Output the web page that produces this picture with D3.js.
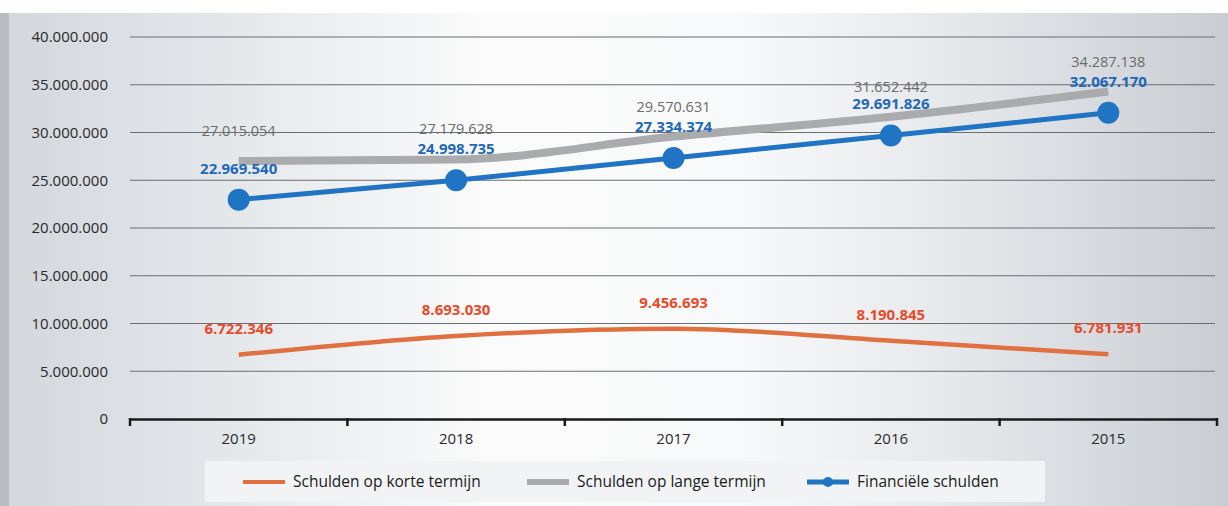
<!DOCTYPE html>
<html><head><meta charset="utf-8">
<script src="https://cdn.jsdelivr.net/npm/d3@7"></script>
<style>
html,body{margin:0;padding:0;background:#fff;}
svg{display:block;}
text{font-family:"Open Sans","Noto Sans",sans-serif;}
</style></head>
<body>
<svg id="c" width="1228" height="506"></svg>
<script>
const years = ["2019","2018","2017","2016","2015"];
const korte = [6722346, 8693030, 9456693, 8190845, 6781931];
const lange = [27015054, 27179628, 29570631, 31652442, 34287138];
const financiele = [22969540, 24998735, 27334374, 29691826, 32067170];
const yTicks = [0,5000000,10000000,15000000,20000000,25000000,30000000,35000000,40000000];
const seriesNames = ["Schulden op korte termijn","Schulden op lange termijn","Financiële schulden"];

const svg = d3.select("#c");
const W = 1228, H = 506;
const defs = svg.append("defs");
const g1 = defs.append("linearGradient").attr("id","bg").attr("x1","0").attr("x2","1").attr("y1","0").attr("y2","0");
g1.append("stop").attr("offset","0").attr("stop-color","#d3d6db");
g1.append("stop").attr("offset","0.2").attr("stop-color","#e6e9ec");
g1.append("stop").attr("offset","0.4").attr("stop-color","#fbfbfb");
g1.append("stop").attr("offset","0.6").attr("stop-color","#f8f9fa");
g1.append("stop").attr("offset","0.8").attr("stop-color","#e3e6e9");
g1.append("stop").attr("offset","1").attr("stop-color","#c9ccd1");

svg.append("rect").attr("x",0).attr("y",0).attr("width",W).attr("height",H).attr("fill","#fff");
svg.append("rect").attr("x",0).attr("y",13).attr("width",W).attr("height",H-13).attr("fill","url(#bg)");
svg.append("rect").attr("x",0).attr("y",13).attr("width",9).attr("height",H-13).attr("fill","#b9bcc1");

const x = d3.scaleBand().domain(years).range([130,1217]).padding(0);
const y = d3.scaleLinear().domain([0,40000000]).range([419,37]);
const fmt = v => d3.format(",")(v).replace(/,/g,".");

// gridlines
svg.append("g").selectAll("line").data(yTicks.filter(d=>d>0)).join("line")
  .attr("x1",130).attr("x2",1215).attr("y1",d=>y(d)).attr("y2",d=>y(d))
  .attr("stroke","#6a6d72").attr("stroke-width",1);

// y axis labels
const ya = svg.append("g").attr("transform","translate(108,0)")
  .call(d3.axisLeft(y).tickValues(yTicks).tickSize(0).tickPadding(0).tickFormat(fmt));
ya.select(".domain").remove();
ya.selectAll("text").attr("font-size",15).attr("fill","#2a2a2a").attr("font-family","'Open Sans',sans-serif");

// x axis
const xa = svg.append("g").attr("transform","translate(0,419)")
  .call(d3.axisBottom(x).tickSize(0).tickPadding(14));
xa.select(".domain").attr("stroke","#1a1a1a").attr("stroke-width",2.5);
xa.selectAll("text").attr("font-size",15).attr("fill","#2a2a2a");
const bounds = years.map(d=>x(d)).concat([x(years[years.length-1])+x.bandwidth()]);
svg.append("g").selectAll("line").data(bounds).join("line")
  .attr("x1",d=>d).attr("x2",d=>d).attr("y1",418).attr("y2",426)
  .attr("stroke","#1a1a1a").attr("stroke-width",2.5);

const cx = d => x(d) + x.bandwidth()/2;

// lines
const lineSmooth = d3.line().x((d,i)=>cx(years[i])).y(d=>y(d)).curve(d3.curveMonotoneX);
const lineStraight = d3.line().x((d,i)=>cx(years[i])).y(d=>y(d));

svg.append("path").datum(lange).attr("d",lineSmooth).attr("fill","none")
  .attr("stroke","#a9abad").attr("stroke-width",8).attr("stroke-linecap","butt");
svg.append("path").datum(korte).attr("d",lineSmooth).attr("fill","none")
  .attr("stroke","#e0703f").attr("stroke-width",4.5);
svg.append("path").datum(financiele).attr("d",lineStraight).attr("fill","none")
  .attr("stroke","#1f74c4").attr("stroke-width",5);
svg.append("g").selectAll("circle").data(financiele).join("circle")
  .attr("cx",(d,i)=>cx(years[i])).attr("cy",d=>y(d)).attr("r",11).attr("fill","#1f74c4");

// labels
svg.append("g").selectAll("text").data(lange).join("text")
  .attr("x",(d,i)=>cx(years[i])).attr("y",d=>y(d)-25).attr("text-anchor","middle")
  .attr("font-size",14.5).attr("fill","#6b6b6b").attr("font-family","'Liberation Sans Narrow','DejaVu Sans Condensed',sans-serif")
  .text(fmt);
svg.append("g").selectAll("text").data(financiele).join("text")
  .attr("x",(d,i)=>cx(years[i])).attr("y",d=>y(d)-26).attr("text-anchor","middle")
  .attr("font-size",15).attr("font-weight","bold").attr("fill","#1f68b8")
  .text(fmt);
svg.append("g").selectAll("text").data(korte).join("text")
  .attr("x",(d,i)=>cx(years[i])).attr("y",d=>y(d)-21).attr("text-anchor","middle")
  .attr("font-size",15).attr("font-weight","bold").attr("fill","#e84a2a")
  .text(fmt);

// legend
svg.append("rect").attr("x",205).attr("y",461).attr("width",840).attr("height",41).attr("fill","#f1f3f5");
const leg = svg.append("g").attr("transform","translate(0,482)");
const items = [
  {name:seriesNames[0], color:"#e0703f", w:4, x:243, dot:false},
  {name:seriesNames[1], color:"#a9abad", w:6, x:527, dot:false},
  {name:seriesNames[2], color:"#1f74c4", w:5, x:807, dot:true}
];
items.forEach(it=>{
  leg.append("line").attr("x1",it.x).attr("x2",it.x+42).attr("y1",0).attr("y2",0)
    .attr("stroke",it.color).attr("stroke-width",it.w);
  if(it.dot) leg.append("circle").attr("cx",it.x+21).attr("cy",0).attr("r",5).attr("fill",it.color);
  leg.append("text").attr("x",it.x+50).attr("y",5).attr("font-size",15.5).attr("fill","#1a1a1a")
    .attr("font-family","'Liberation Sans Narrow','DejaVu Sans Condensed',sans-serif").text(it.name);
});
</script>
</body></html>
